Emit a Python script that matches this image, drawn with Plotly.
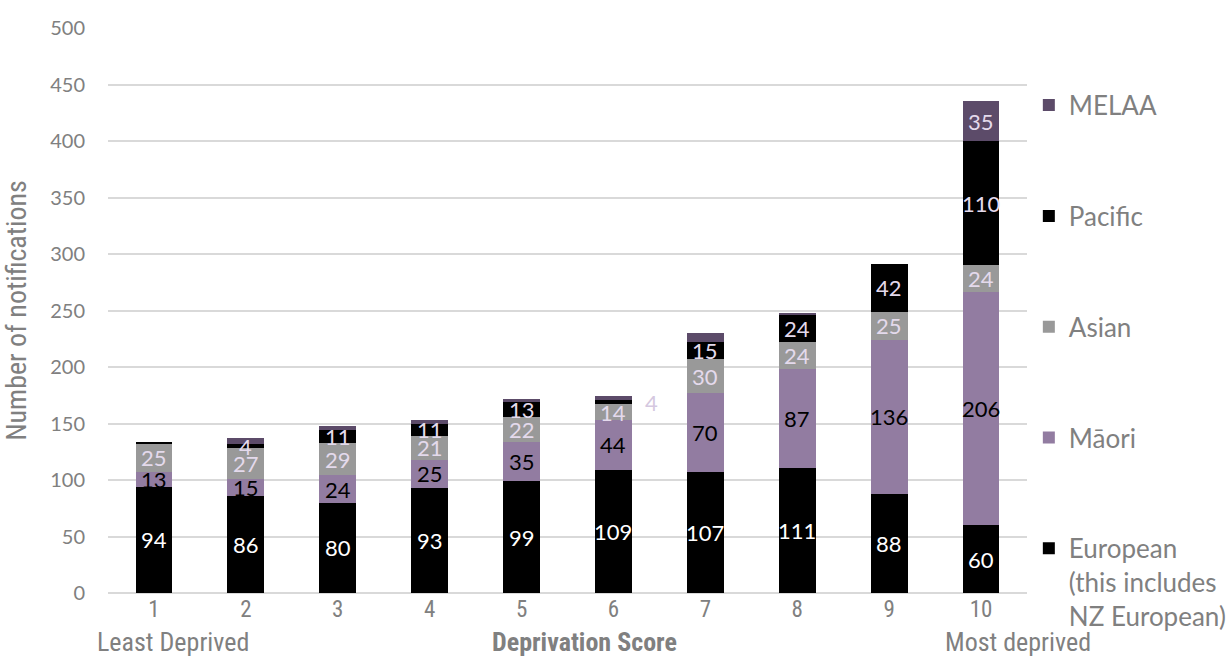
import plotly.graph_objects as go

# Deprivation score categories (1 = least deprived, 10 = most deprived)
scores = [1, 2, 3, 4, 5, 6, 7, 8, 9, 10]
score_labels = ["1", "2", "3", "4", "5", "6", "7", "8", "9", "10"]

european = [94, 86, 80, 93, 99, 109, 107, 111, 88, 60]
maori = [13, 15, 24, 25, 35, 44, 70, 87, 136, 206]
asian = [25, 27, 29, 21, 22, 14, 30, 24, 25, 24]
pacific = [1, 4, 11, 11, 13, 4, 15, 24, 42, 110]
melaa = [0, 5, 4, 3, 3, 3, 8, 2, 0, 35]

series_names = ["European<br>(this includes<br>NZ European)", "Māori", "Asian", "Pacific", "MELAA"]
series_values = [european, maori, asian, pacific, melaa]
series_colors = ["#000000", "#927CA1", "#999999", "#000000", "#5C4B69"]
label_colors = ["#FFFFFF", "#000000", "#E4DAEC", "#E4DAEC", "#E4DAEC"]
legend_ranks = [5, 4, 3, 2, 1]

# which values get a data label (small slivers are left unlabelled)
shown = [
    [True] * 10,
    [True] * 10,
    [True] * 10,
    [False, True, True, True, True, True, True, True, True, True],
    [False] * 9 + [True],
]
# labels placed beside the bar instead of on it
outside = {(3, 5)}

LABEL_FONT = "Lato, Open Sans, sans-serif"
NARROW_FONT = "Liberation Sans Narrow, Roboto Condensed, Arial Narrow, sans-serif"
GRAY = "#808080"

fig = go.Figure()
for name, vals, col, rank in zip(series_names, series_values, series_colors, legend_ranks):
    fig.add_trace(go.Bar(
        x=scores, y=vals, name=name, marker=dict(color=col, line=dict(width=0)),
        legendgroup=name.split("<br>")[0], legendrank=rank,
        hoverinfo="x+y+name",
    ))

annotations = []
base = [0] * len(scores)
for s, vals in enumerate(series_values):
    for i, v in enumerate(vals):
        if shown[s][i]:
            yc = base[i] + v / 2
            if (s, i) in outside:
                annotations.append(dict(
                    x=scores[i], y=yc, xref="x", yref="y", text=str(v), showarrow=False,
                    xshift=38, font=dict(family=LABEL_FONT, size=22, color="#D5C8E0"),
                ))
            else:
                annotations.append(dict(
                    x=scores[i], y=yc, xref="x", yref="y", text=str(v), showarrow=False,
                    font=dict(family=LABEL_FONT, size=22, color=label_colors[s]),
                ))
        base[i] += v

# bottom captions: ends of the scale and the axis name
annotations += [
    dict(x=-0.014, y=-0.0875, xref="paper", yref="paper", xanchor="left", yanchor="middle",
         text="Least Deprived", showarrow=False,
         font=dict(family=NARROW_FONT, size=26, color=GRAY)),
    dict(x=0.519, y=-0.0875, xref="paper", yref="paper", xanchor="center", yanchor="middle",
         text="<b>Deprivation Score</b>", showarrow=False,
         font=dict(family=NARROW_FONT, size=26, color=GRAY)),
    dict(x=0.909, y=-0.0875, xref="paper", yref="paper", xanchor="left", yanchor="middle",
         text="Most deprived", showarrow=False,
         font=dict(family=NARROW_FONT, size=26, color=GRAY)),
]

fig.update_layout(
    width=1226, height=659,
    barmode="stack", bargap=0.6,
    paper_bgcolor="white", plot_bgcolor="white",
    margin=dict(l=108, r=199, t=28, b=66, autoexpand=False),
    showlegend=True,
    legend=dict(
        x=1.002, xanchor="left", y=0.905, yanchor="top",
        traceorder="grouped", tracegroupgap=74, valign="top",
        font=dict(family=LABEL_FONT, size=26, color=GRAY),
        itemwidth=30,
    ),
    annotations=annotations,
    xaxis=dict(
        range=[0.5, 10.5], tickvals=scores, ticktext=score_labels,
        showgrid=False, showline=False, zeroline=False, ticks="", automargin=False,
        tickfont=dict(family=NARROW_FONT, size=23, color=GRAY),
    ),
    yaxis=dict(
        range=[0, 500], dtick=50, showgrid=True, gridcolor="#D9D9D9", gridwidth=1.5,
        zeroline=True, zerolinecolor="#D9D9D9", zerolinewidth=1.5,
        showline=False, ticks="", ticklabelstandoff=22, automargin=False,
        tickfont=dict(family=LABEL_FONT, size=20, color=GRAY),
        title=dict(text="Number of notifications", standoff=16,
                   font=dict(family=NARROW_FONT, size=28, color=GRAY)),
    ),
)

fig.write_html("out.html")
